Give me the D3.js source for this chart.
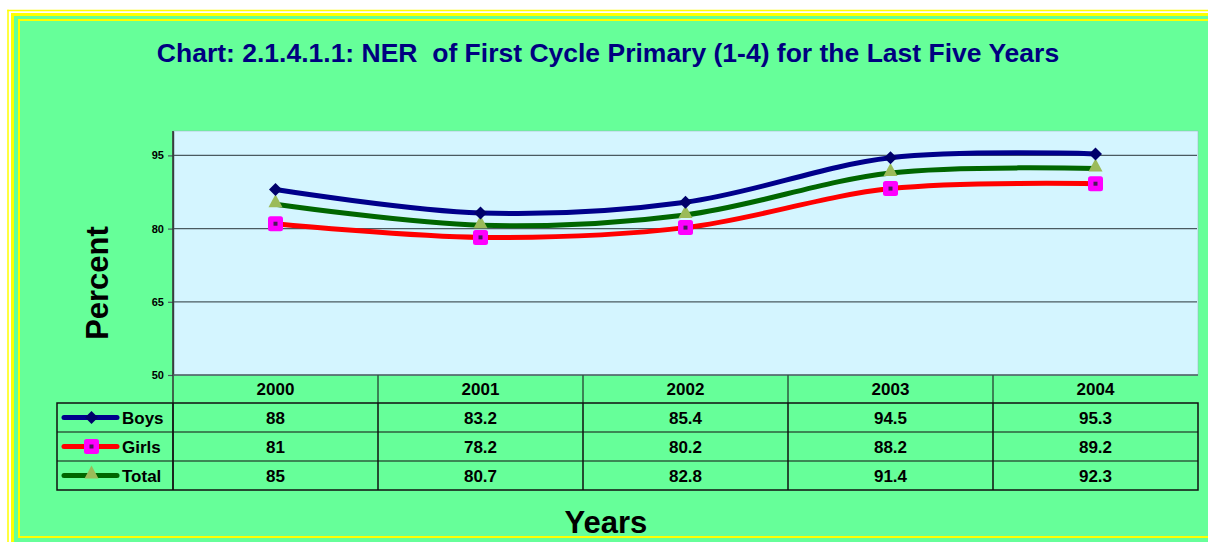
<!DOCTYPE html>
<html><head><meta charset="utf-8">
<script src="https://cdn.jsdelivr.net/npm/d3@7"></script>
<style>html,body{margin:0;padding:0;background:#fff;overflow:hidden;width:1208px;height:542px}svg{display:block}</style>
</head><body>
<svg id="c" width="1208" height="542"></svg>
<script>
const years = ["2000","2001","2002","2003","2004"];
const boys  = [88, 83.2, 85.4, 94.5, 95.3];
const girls = [81, 78.2, 80.2, 88.2, 89.2];
const total = [85, 80.7, 82.8, 91.4, 92.3];
const yTicks = [50, 65, 80, 95];
const seriesNames = ["Boys","Girls","Total"];
const titleText = "Chart: 2.1.4.1.1: NER  of First Cycle Primary (1-4) for the Last Five Years";

const FONT = "Liberation Sans, Arial, sans-serif";
const svg = d3.select("#c");

// frame (open on the right: the chart continues beyond the window)
svg.append("rect").attr("x",0).attr("y",0).attr("width",1208).attr("height",542).attr("fill","#fff");
svg.append("rect").attr("x",14).attr("y",16).attr("width",1194).attr("height",526).attr("fill","#66FF99");
const Y = "#FFFF00";
function hl(x1, yy, w){ svg.append("line").attr("x1",x1).attr("x2",1208).attr("y1",yy).attr("y2",yy).attr("stroke",Y).attr("stroke-width",w); }
function vl(xx, y1, y2, w){ svg.append("line").attr("x1",xx).attr("x2",xx).attr("y1",y1).attr("y2",y2).attr("stroke",Y).attr("stroke-width",w); }
hl(7.25, 10.5, 1.5); vl(8, 9.75, 542, 1.5);
hl(11, 14.5, 3);     vl(12.5, 13, 542, 3);
hl(18, 20, 2);       vl(19, 19, 538, 2);
hl(18, 537, 2);

// title
svg.append("text").attr("x",608).attr("y",62).attr("text-anchor","middle")
  .attr("font-family",FONT).attr("font-weight","bold").attr("font-size",26.5).attr("fill","#000080")
  .style("white-space","pre").text(titleText);

const x = d3.scaleBand().domain(years).range([173,1198]);
const y = d3.scaleLinear().domain([50,100]).range([375,131]);

// plot area
svg.append("rect").attr("x",173).attr("y",131).attr("width",1025).attr("height",244)
  .attr("fill","#D4F5FF").attr("stroke","#9ab").attr("stroke-width",0.5);

// gridlines
svg.append("g").selectAll("line").data(yTicks.filter(d=>d>50)).join("line")
  .attr("x1",173).attr("x2",1197).attr("y1",d=>y(d)).attr("y2",d=>y(d))
  .attr("stroke","#4a5a60").attr("stroke-width",1.2);

// y axis
const ya = svg.append("g").attr("transform","translate(173,0)")
  .call(d3.axisLeft(y).tickValues(yTicks).tickSizeInner(5).tickSizeOuter(0).tickPadding(4));
ya.select(".domain").attr("stroke","#4a5a60").attr("stroke-width",1.5);
ya.selectAll(".tick line").attr("stroke","#4a5a60").attr("stroke-width",1.2);
ya.selectAll("text").attr("font-family",FONT).attr("font-weight","bold").attr("font-size",11).attr("fill","#000");
svg.append("line").attr("x1",173).attr("x2",173).attr("y1",131).attr("y2",490).attr("stroke","#333").attr("stroke-width",1.5);

// bottom axis line
svg.append("line").attr("x1",173).attr("x2",1198).attr("y1",375).attr("y2",375).attr("stroke","#4a5a60").attr("stroke-width",1.5);

// table
const rowTop = [403,432,461];
const rowH = 29;
const tbl = svg.append("g");
tbl.selectAll("line.hs").data(years.slice(1)).join("line")
  .attr("x1",d=>x(d)).attr("x2",d=>x(d)).attr("y1",375).attr("y2",403)
  .attr("stroke","#2f5a40").attr("stroke-width",1.5);
tbl.selectAll("text.h").data(years).join("text")
  .attr("x",d=>x(d)+x.bandwidth()/2).attr("y",395).attr("text-anchor","middle")
  .attr("font-family",FONT).attr("font-weight","bold").attr("font-size",17).text(d=>d);
tbl.append("rect").attr("x",57).attr("y",403).attr("width",1141).attr("height",rowH*3)
  .attr("fill","none").attr("stroke","#111").attr("stroke-width",1.5);
rowTop.slice(1).forEach(t=>{
  tbl.append("line").attr("x1",57).attr("x2",1198).attr("y1",t).attr("y2",t).attr("stroke","#111").attr("stroke-width",1.2);
});
tbl.selectAll("line.vs").data(years).join("line")
  .attr("x1",d=>x(d)).attr("x2",d=>x(d)).attr("y1",403).attr("y2",490)
  .attr("stroke","#111").attr("stroke-width",1.5);

const series = [
  {name:seriesNames[0], vals:boys, color:"#00008B", marker:"diamond"},
  {name:seriesNames[1], vals:girls, color:"#FF0000", marker:"square"},
  {name:seriesNames[2], vals:total, color:"#006600", marker:"triangle"}
];

function drawMarker(g, type, cx, cy){
  if(type==="diamond"){
    g.append("path").attr("d",`M${cx},${cy-6.5}L${cx+6.5},${cy}L${cx},${cy+6.5}L${cx-6.5},${cy}Z`).attr("fill","#00006B");
  } else if(type==="square"){
    g.append("rect").attr("x",cx-7.5).attr("y",cy-7.5).attr("width",15).attr("height",15).attr("rx",2.5).attr("fill","#FF00FF");
    g.append("rect").attr("x",cx-2).attr("y",cy-2).attr("width",4).attr("height",4).attr("fill","#4B1A5A");
  } else {
    g.append("path").attr("d",`M${cx},${cy-10}L${cx+7},${cy+3}L${cx-7},${cy+3}Z`).attr("fill","#9BBB59");
  }
}

series.forEach((s,i)=>{
  const cy = rowTop[i]+rowH/2;
  tbl.selectAll(null).data(s.vals).join("text")
    .attr("x",(d,j)=>x(years[j])+x.bandwidth()/2).attr("y",cy+6).attr("text-anchor","middle")
    .attr("font-family",FONT).attr("font-weight","bold").attr("font-size",17).text(d=>d);
  const lg = tbl.append("g");
  lg.append("line").attr("x1",64).attr("x2",117).attr("y1",cy).attr("y2",cy)
    .attr("stroke",s.color).attr("stroke-width",5).attr("stroke-linecap","round");
  drawMarker(lg, s.marker, 91.5, cy);
  lg.append("text").attr("x",122).attr("y",cy+6).attr("font-family",FONT).attr("font-weight","bold").attr("font-size",17).text(s.name);
});

// lines
const line = d3.line().x((d,j)=>x(years[j])+x.bandwidth()/2).y(d=>y(d)).curve(d3.curveCatmullRom.alpha(0));
const draw = [series[1], series[2], series[0]];
draw.forEach(s=>{
  svg.append("path").attr("d",line(s.vals)).attr("fill","none").attr("stroke",s.color).attr("stroke-width",5).attr("stroke-linecap","round");
});
draw.forEach(s=>{
  const g = svg.append("g");
  s.vals.forEach((v,j)=>drawMarker(g, s.marker, x(years[j])+x.bandwidth()/2, y(v)));
});

// axis titles
svg.append("text").attr("transform","translate(108,283) rotate(-90)").attr("text-anchor","middle")
  .attr("font-family",FONT).attr("font-weight","bold").attr("font-size",31).text("Percent");
svg.append("text").attr("x",606).attr("y",533).attr("text-anchor","middle")
  .attr("font-family",FONT).attr("font-weight","bold").attr("font-size",31).text("Years");
</script>
</body></html>
